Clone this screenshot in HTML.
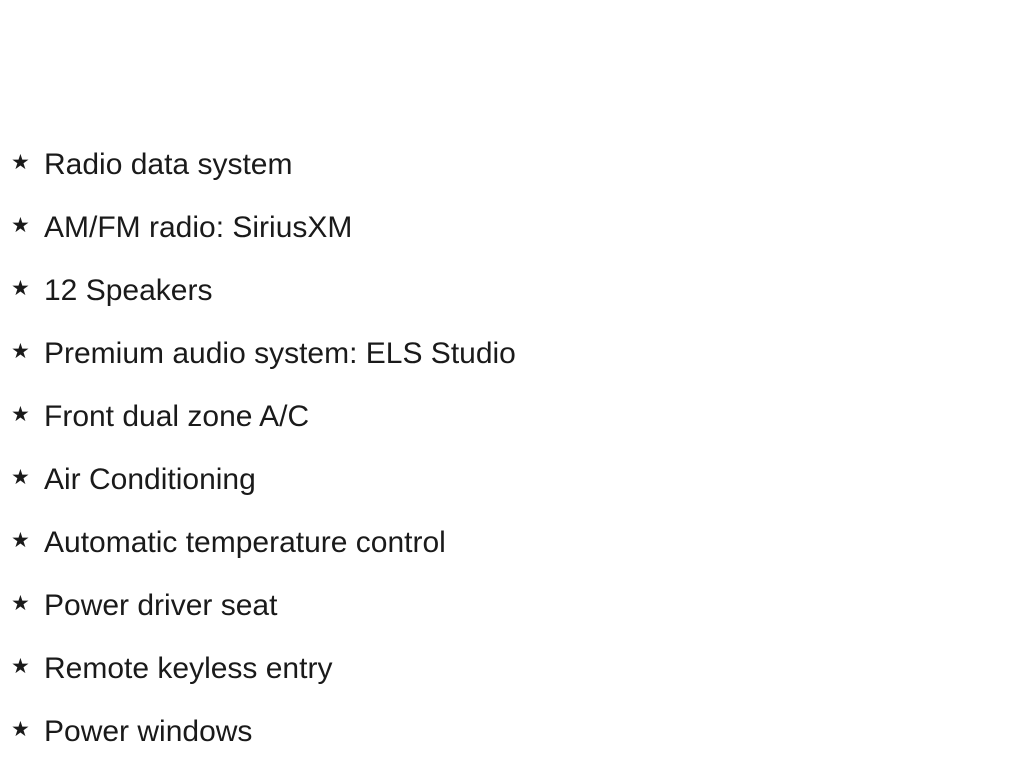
<!DOCTYPE html>
<html>
<head>
<meta charset="utf-8">
<style>
  html, body { margin:0; padding:0; background:#fff; }
  body { width:1024px; height:768px; position:relative; overflow:hidden;
         font-family:"Liberation Sans", Arial, sans-serif; color:#1a1a1a; }
  .list { position:absolute; left:0; top:150px; }
  .item { height:63px; position:relative; }
  .star { position:absolute; left:11px; top:-2px; font-size:21px; line-height:30px; }
  .txt { position:absolute; left:44px; top:0; font-size:30px; line-height:30px; white-space:nowrap; }
</style>
</head>
<body>
<div class="list">
  <div class="item"><span class="star">★</span><span class="txt">Radio data system</span></div>
  <div class="item"><span class="star">★</span><span class="txt">AM/FM radio: SiriusXM</span></div>
  <div class="item"><span class="star">★</span><span class="txt">12 Speakers</span></div>
  <div class="item"><span class="star">★</span><span class="txt">Premium audio system: ELS Studio</span></div>
  <div class="item"><span class="star">★</span><span class="txt">Front dual zone A/C</span></div>
  <div class="item"><span class="star">★</span><span class="txt">Air Conditioning</span></div>
  <div class="item"><span class="star">★</span><span class="txt">Automatic temperature control</span></div>
  <div class="item"><span class="star">★</span><span class="txt">Power driver seat</span></div>
  <div class="item"><span class="star">★</span><span class="txt">Remote keyless entry</span></div>
  <div class="item"><span class="star">★</span><span class="txt">Power windows</span></div>
</div>
</body>
</html>
